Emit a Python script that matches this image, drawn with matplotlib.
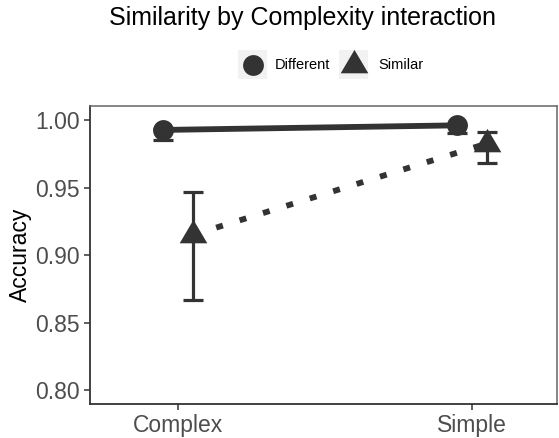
import matplotlib
matplotlib.use("Agg")
import matplotlib.pyplot as plt
from matplotlib.lines import Line2D
from matplotlib.patches import Rectangle
import numpy as np

plt.rcParams['font.family'] = ['Liberation Sans', 'DejaVu Sans']

# ---- data ----
complexity = ['Complex', 'Simple']
different_mean = [0.9926, 0.9960]
different_lo = [0.9850, 0.9900]
different_hi = [0.9930, 0.9962]
similar_mean = [0.9150, 0.9825]
similar_lo = [0.8671, 0.9680]
similar_hi = [0.9468, 0.9910]
series_labels = ['Different', 'Similar']
yticks = [0.80, 0.85, 0.90, 0.95, 1.00]
title = 'Similarity by Complexity interaction'
ylabel = 'Accuracy'

W, H = 559, 438
DPI = 100
fig = plt.figure(figsize=(W / DPI, H / DPI), dpi=DPI)
ax = fig.add_axes([90 / W, 1 - 404 / H, (557 - 90) / W, (404 - 106) / H])

col = '#333333'
tri = [(0, 1), (-0.885, -0.5), (0.885, -0.5)]
x = np.arange(1, len(complexity) + 1)
dodge = 0.05

specs = [
    (different_mean, different_lo, different_hi, -dodge, 'o', 15, '-'),
    (similar_mean, similar_lo, similar_hi, dodge, tri, 22.5, (0, (1.2, 3.0))),
]
for mean, lo, hi, off, mk, ms, ls in specs:
    xs = x + off
    mean = np.array(mean)
    yerr = np.vstack([mean - np.array(lo), np.array(hi) - mean])
    ax.plot(xs, mean, color=col, lw=4.2, linestyle=ls, zorder=2,
            solid_capstyle='butt', dash_capstyle='butt')
    ax.errorbar(xs, mean, yerr=yerr, fmt='none', ecolor=col, elinewidth=2.3,
                capsize=7.3, capthick=2.3, zorder=3)
    ax.plot(xs, mean, linestyle='none', marker=mk, ms=ms, color=col,
            markeredgewidth=0, zorder=4)

ax.set_xlim(0.7, 2.29)
ax.set_ylim(0.79, 1.0103)
ax.set_xticks(x)
ax.set_xticklabels(complexity)
ax.set_yticks(yticks)
ax.set_yticklabels([f'{v:.2f}' for v in yticks])
ax.tick_params(axis='both', colors='#333333', labelcolor='#4D4D4D',
               labelsize=16.5, length=4.5, width=1.1, pad=3)
for s in ['left', 'bottom']:
    ax.spines[s].set_color('#333333')
    ax.spines[s].set_linewidth(1.3)
for s in ['top', 'right']:
    ax.spines[s].set_color('#666666')
    ax.spines[s].set_linewidth(1.1)
ax.set_ylabel(ylabel, fontsize=16.5, color='black', labelpad=2)

fig.text(302.5 / W, 1 - 18 / H, title, ha='center', va='center', fontsize=18,
         color='black')

# legend (manual, ggplot-like keys)
keys = [(252.5, 'o', 15), (353.5, tri, 22.5)]
text_x = [275, 378]
for (cx, mk, ms), tx, lab in zip(keys, text_x, series_labels):
    fig.add_artist(Rectangle(((cx - 14.5) / W, 1 - 79 / H), 29 / W, 29 / H,
                             transform=fig.transFigure, facecolor='#F2F2F2',
                             edgecolor='none'))
    fig.add_artist(Line2D([cx / W], [1 - 65 / H], marker=mk, ms=ms, color=col,
                          markeredgewidth=0, linestyle='none',
                          transform=fig.transFigure))
    fig.text(tx / W, 1 - 65 / H, lab, ha='left', va='center', fontsize=10.5,
             color='black')

fig.savefig('out.png', dpi=DPI)
